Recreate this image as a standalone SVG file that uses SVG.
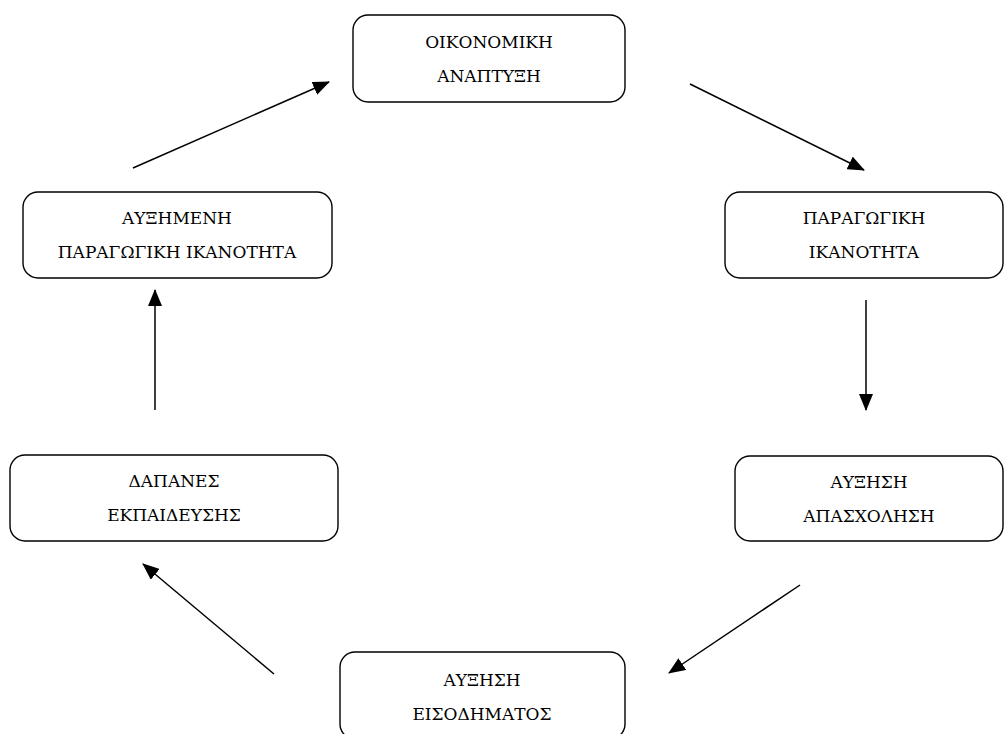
<svg xmlns="http://www.w3.org/2000/svg" width="1005" height="734" viewBox="0 0 1005 734">
  <style>
    .box { fill: #ffffff; stroke: #000000; stroke-width: 1.4; }
    .lbl { font-family: "DejaVu Serif", "Liberation Serif", serif; font-size: 17px; fill: #000000; text-anchor: middle; }
    .link { stroke: #000000; stroke-width: 1.5; fill: none; marker-end: url(#head); }
  </style>
  <defs>
    <marker id="head" markerWidth="17" markerHeight="14" refX="16" refY="7" orient="auto" markerUnits="userSpaceOnUse">
      <path d="M0,0 L17,7 L0,14 Z" fill="#000000"/>
    </marker>
  </defs>

  <rect width="1005" height="734" fill="#ffffff"/>

  <g id="connectors">
    <line class="link" x1="690" y1="84" x2="864" y2="170"/>
    <line class="link" x1="866" y1="300" x2="866" y2="410"/>
    <line class="link" x1="800" y1="585" x2="669" y2="673"/>
    <line class="link" x1="274" y1="674" x2="143" y2="564"/>
    <line class="link" x1="155" y1="410" x2="155" y2="290"/>
    <line class="link" x1="133" y1="168" x2="329" y2="82"/>
  </g>

  <g id="node-oikonomiki-anaptyxi">
    <rect class="box" x="353" y="15" width="272" height="87" rx="15"/>
    <text class="lbl" x="489" y="48">ΟΙΚΟΝΟΜΙΚΗ</text>
    <text class="lbl" x="489" y="82">ΑΝΑΠΤΥΞΗ</text>
  </g>

  <g id="node-paragogiki-ikanotita">
    <rect class="box" x="725" y="192" width="278" height="86" rx="15"/>
    <text class="lbl" x="864" y="224">ΠΑΡΑΓΩΓΙΚΗ</text>
    <text class="lbl" x="864" y="258">ΙΚΑΝΟΤΗΤΑ</text>
  </g>

  <g id="node-afxisi-apascholisi">
    <rect class="box" x="735" y="456" width="268" height="85" rx="15"/>
    <text class="lbl" x="869" y="488">ΑΥΞΗΣΗ</text>
    <text class="lbl" x="869" y="522">ΑΠΑΣΧΟΛΗΣΗ</text>
  </g>

  <g id="node-afxisi-eisodimatos">
    <rect class="box" x="340" y="652" width="285" height="87" rx="15"/>
    <text class="lbl" x="482" y="686">ΑΥΞΗΣΗ</text>
    <text class="lbl" x="482" y="720">ΕΙΣΟΔΗΜΑΤΟΣ</text>
  </g>

  <g id="node-dapanes-ekpaidefsis">
    <rect class="box" x="10" y="455" width="328" height="86" rx="15"/>
    <text class="lbl" x="174" y="487">ΔΑΠΑΝΕΣ</text>
    <text class="lbl" x="174" y="521">ΕΚΠΑΙΔΕΥΣΗΣ</text>
  </g>

  <g id="node-afximeni-paragogiki-ikanotita">
    <rect class="box" x="23" y="192" width="309" height="86" rx="15"/>
    <text class="lbl" x="177" y="224">ΑΥΞΗΜΕΝΗ</text>
    <text class="lbl" x="177" y="258">ΠΑΡΑΓΩΓΙΚΗ ΙΚΑΝΟΤΗΤΑ</text>
  </g>
</svg>
